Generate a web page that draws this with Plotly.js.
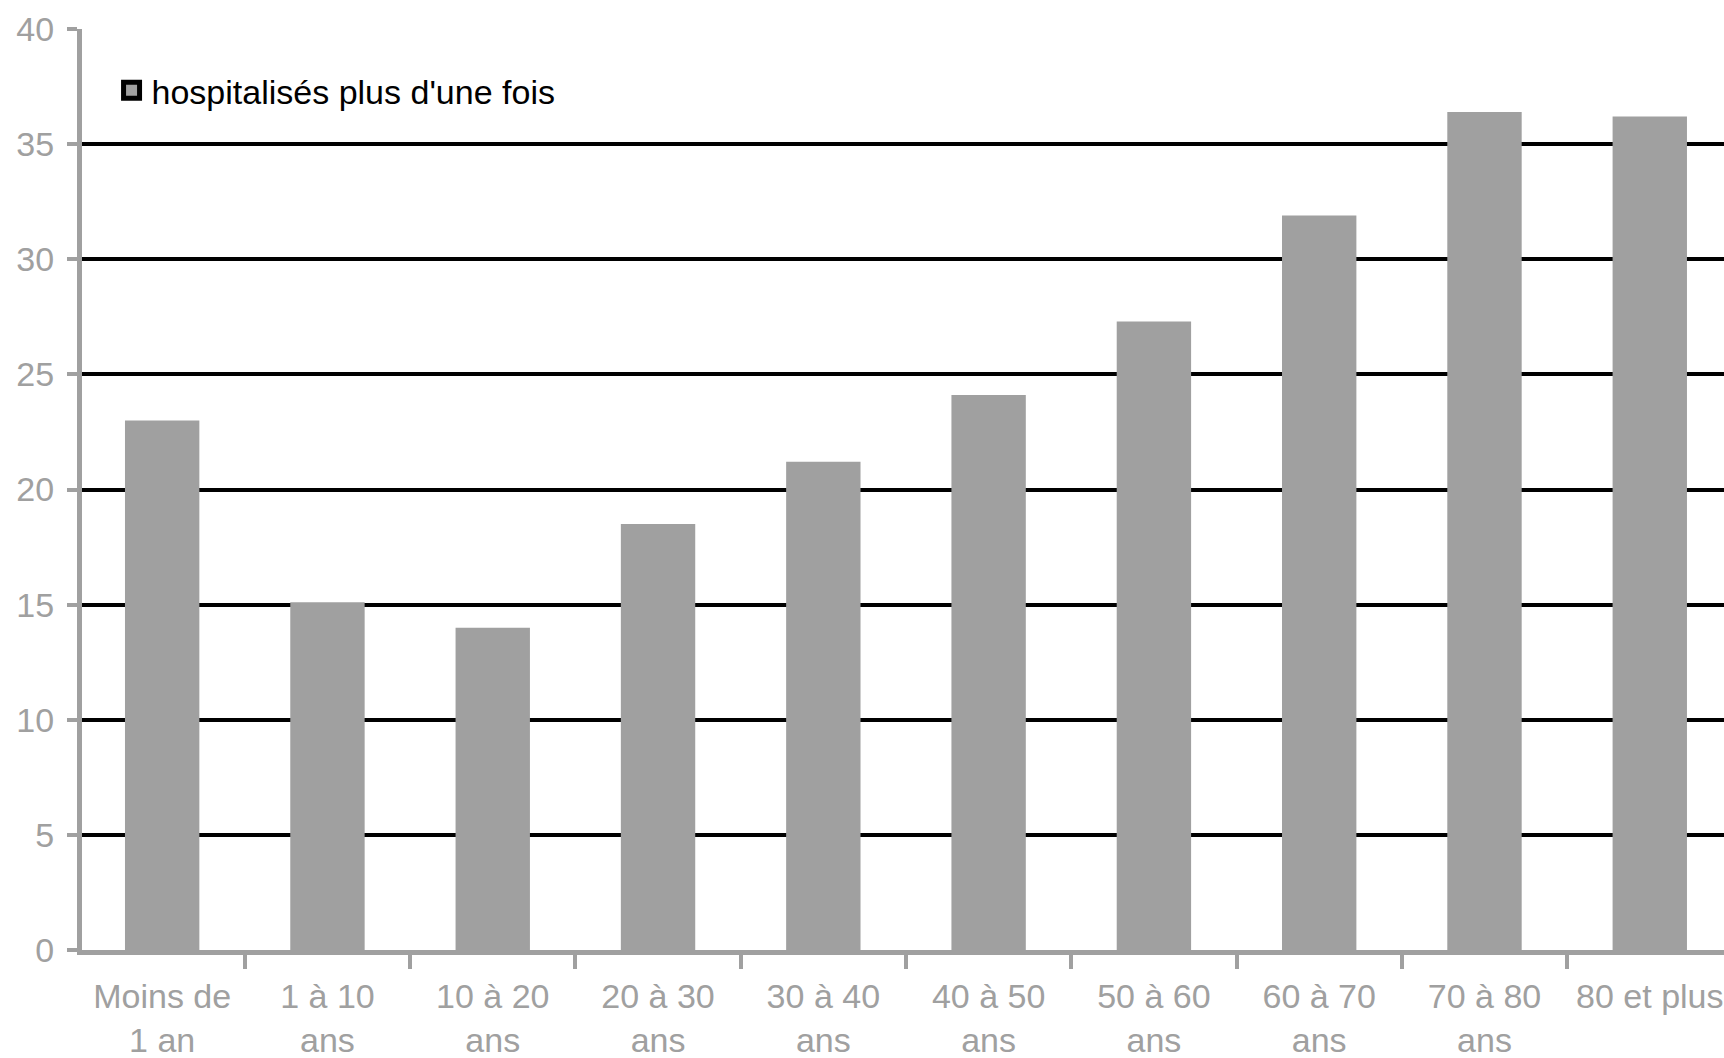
<!DOCTYPE html>
<html>
<head>
<meta charset="utf-8">
<script src="https://cdn.plot.ly/plotly-3.0.1.min.js"></script>
<style>
  html, body { margin: 0; padding: 0; background: #ffffff; }
  #chart { width: 1724px; height: 1058px; }
</style>
</head>
<body>
<div id="chart"></div>
<script>
// ---- Data ----
const categories = [
  "Moins de<br>1 an",
  "1 à 10<br>ans",
  "10 à 20<br>ans",
  "20 à 30<br>ans",
  "30 à 40<br>ans",
  "40 à 50<br>ans",
  "50 à 60<br>ans",
  "60 à 70<br>ans",
  "70 à 80<br>ans",
  "80 et plus"
];
const values = [23.0, 15.1, 14.0, 18.5, 21.2, 24.1, 27.3, 31.9, 36.4, 36.2];
const seriesName = "hospitalisés plus d'une fois";
const yTickValues = [0, 5, 10, 15, 20, 25, 30, 35, 40];

const barColor = '#a0a0a0';
const axisGray = '#a0a0a0';
const fontFamily = '"Liberation Sans", Arial, sans-serif';

const traces = [
  {
    type: 'bar',
    x: categories,
    y: values,
    name: seriesName,
    showlegend: false,
    marker: { color: barColor, line: { width: 0 } },
    hoverinfo: 'x+y'
  },
  {
    // legend-only entry (square with black frame, as in the reference)
    type: 'scatter',
    mode: 'markers',
    x: [null],
    y: [null],
    name: seriesName,
    showlegend: true,
    marker: { symbol: 'square', size: 16, color: barColor, line: { color: '#000000', width: 5 } },
    hoverinfo: 'skip'
  }
];

const layout = {
  width: 1724,
  height: 1058,
  margin: { l: 82, r: 0, t: 29, b: 108, pad: 0 },
  paper_bgcolor: '#ffffff',
  plot_bgcolor: '#ffffff',
  bargap: 0.55,
  showlegend: true,
  legend: {
    x: 0.018,
    xanchor: 'left',
    y: 0.933,
    yanchor: 'middle',
    bgcolor: 'rgba(0,0,0,0)',
    borderwidth: 0,
    font: { family: fontFamily, size: 34, color: '#000000' }
  },
  xaxis: {
    type: 'category',
    categoryorder: 'array',
    categoryarray: categories,
    range: [-0.485, 9.449],
    showline: true,
    linecolor: axisGray,
    linewidth: 5,
    showgrid: false,
    zeroline: false,
    ticks: 'outside',
    tickson: 'boundaries',
    ticklen: 14,
    tickwidth: 4,
    tickcolor: axisGray,
    tickangle: 0,
    ticklabelstandoff: 12,
    tickfont: { family: fontFamily, size: 34, color: axisGray },
    fixedrange: true
  },
  yaxis: {
    range: [0, 40],
    tickmode: 'array',
    tickvals: yTickValues,
    ticktext: yTickValues.map(String),
    showline: true,
    linecolor: axisGray,
    linewidth: 5,
    showgrid: true,
    gridcolor: '#000000',
    gridwidth: 4,
    zeroline: false,
    ticks: 'outside',
    ticklen: 10,
    tickwidth: 4,
    tickcolor: axisGray,
    ticklabelstandoff: 6,
    tickfont: { family: fontFamily, size: 34, color: axisGray },
    fixedrange: true
  }
};

Plotly.newPlot('chart', traces, layout, { displayModeBar: false, staticPlot: true });
</script>
</body>
</html>
